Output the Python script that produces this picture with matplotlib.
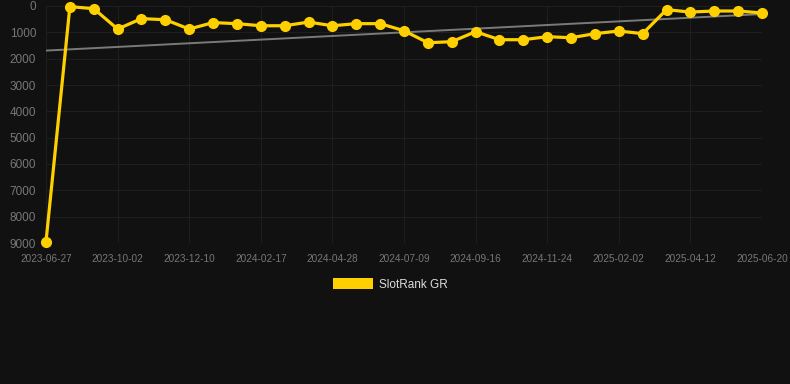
import matplotlib
matplotlib.use('Agg')
import matplotlib.pyplot as plt
import numpy as np
from matplotlib.patches import Patch

plt.rcParams['font.family'] = ['Liberation Sans', 'DejaVu Sans']

# visible tick labels (every 3rd point of 31)
tick_labels = ['2023-06-27', '2023-10-02', '2023-12-10', '2024-02-17', '2024-04-28',
               '2024-07-09', '2024-09-16', '2024-11-24', '2025-02-02', '2025-04-12',
               '2025-06-20']
rank = [8950, 25, 100, 875, 480, 520, 875, 630, 670, 750, 750, 610, 750, 670, 670,
        940, 1395, 1355, 975, 1280, 1280, 1165, 1205, 1050, 950, 1050, 140, 230, 190,
        190, 265]
series_name = 'SlotRank GR'

bg = '#111111'
x = np.arange(len(rank))

fig = plt.figure(figsize=(7.9, 3.84), dpi=100, facecolor=bg)
ax = fig.add_axes([46 / 790, 1 - 243 / 384, (762 - 46) / 790, (243 - 6) / 384])
ax.set_facecolor(bg)

# trend line
coef = np.polyfit(x, rank, 1)
ax.plot(x, np.polyval(coef, x), color='#7a7a7a', lw=1.4, zorder=2)

ax.plot(x, rank, color='#ffd000', lw=2.3, marker='o', markersize=7,
        zorder=3, clip_on=False)

ax.set_xlim(0, len(rank) - 1)
ax.set_ylim(9000, 0)
ax.set_yticks(range(0, 9001, 1000))
ax.set_xticks(x[::3])
ax.set_xticklabels(tick_labels)

ax.grid(True, color='#1e1e1e', lw=0.8)
ax.set_axisbelow(True)
for s in ax.spines.values():
    s.set_visible(False)
ax.tick_params(axis='both', length=0, colors='#777777')
ax.tick_params(axis='x', labelsize=7.2, pad=8)
ax.tick_params(axis='y', labelsize=8.5, pad=7)

handle = Patch(facecolor='#ffd000', edgecolor='none')
leg = fig.legend([handle], [series_name], loc='center', bbox_to_anchor=(390 / 790, 1 - 284.5 / 384),
                 frameon=False, fontsize=8.5, handlelength=3.4, handleheight=0.95,
                 handletextpad=0.5, labelcolor='#dddddd')

fig.savefig('out.png', dpi=100, facecolor=bg)
